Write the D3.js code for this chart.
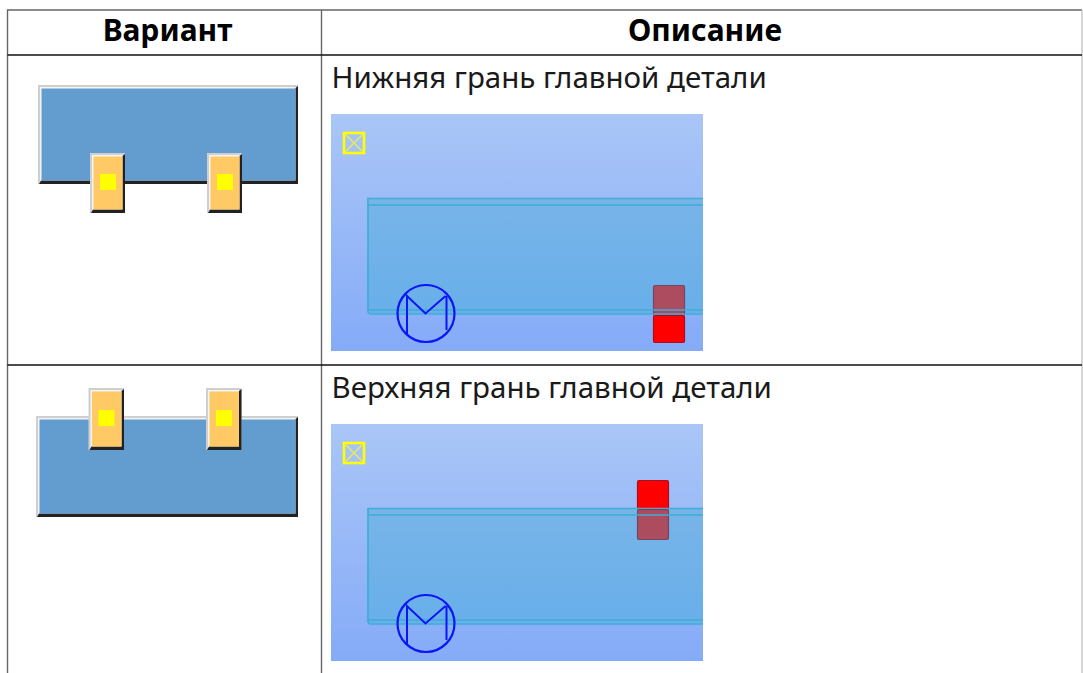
<!DOCTYPE html>
<html><head><meta charset="utf-8">
<style>html,body{margin:0;padding:0;background:#fff;overflow:hidden}svg{display:block}</style>
<script src="https://cdn.jsdelivr.net/npm/d3@7"></script></head><body>
<script>
const headers = ["Вариант", "Описание"];
const descriptions = ["Нижняя грань главной детали", "Верхняя грань главной детали"];
const columnEdges = [7.5, 321.5, 1082];
const rowEdges = [10, 55, 365, 673];

const W = 1083, H = 673;
const x = d3.scaleIdentity().domain([0, W]);
const y = d3.scaleIdentity().domain([0, H]);
const svg = d3.select("body").append("svg").attr("width", W).attr("height", H);
const defs = svg.append("defs");
const soft = defs.append("filter").attr("id","soft").attr("filterUnits","userSpaceOnUse").attr("x",0).attr("y",0).attr("width",W).attr("height",H);
soft.append("feGaussianBlur").attr("stdDeviation",0.6);
const grad = defs.append("linearGradient").attr("id","sky").attr("x1",0).attr("x2",0).attr("y1",0).attr("y2",1);
grad.append("stop").attr("offset",0).attr("stop-color","#aac6f7");
grad.append("stop").attr("offset",1).attr("stop-color","#85abf8");
const beamGrad = defs.append("linearGradient").attr("id","beam").attr("x1",0).attr("x2",0).attr("y1",0).attr("y2",1);
beamGrad.append("stop").attr("offset",0).attr("stop-color","#76b4e8");
beamGrad.append("stop").attr("offset",1).attr("stop-color","#69afea");

function bevel(g, x0, x1, y0, y1, fill){
  const s = g.append("g");
  s.append("rect").attr("x",x(x0)).attr("y",y(y0)).attr("width",x1-x0).attr("height",y1-y0).attr("fill","#cfcfcf");
  s.append("rect").attr("x",x(x0)+2).attr("y",y(y0)+2).attr("width",x1-x0-4).attr("height",y1-y0-4).attr("fill","#f4f4f4");
  s.append("path").attr("d",`M${x(x1)},${y(y0)+1}L${x(x1)},${y(y1)}L${x(x0)+1},${y(y1)}L${x(x0)+3},${y(y1)-3.5}L${x(x1)-2.5},${y(y1)-3.5}L${x(x1)-2.5},${y(y0)+3}Z`).attr("fill","#222");
  s.append("rect").attr("x",x(x0)+3.5).attr("y",y(y0)+3.5).attr("width",x1-x0-6).attr("height",y1-y0-7).attr("fill",fill);
}

function variant(main, tabs){
  const g = svg.append("g").attr("filter","url(#soft)");
  bevel(g, main[0], main[1], main[2], main[3], "#639dd0");
  tabs.forEach(t=>{
    bevel(g, t[0], t[1], t[2], t[3], "#ffc965");
    g.append("rect").attr("x",x(t[4])).attr("y",y(t[5])).attr("width",16).attr("height",16).attr("fill","#ffff00");
  });
}
variant([38,298,85,184],[[90,125,153,213,100,174],[207,242,153,213,217,174]]);
variant([36,298,416,517],[[88.5,124,388,450,98.5,410],[206,241.5,388,450,216,410]]);

function shot(top, redParts){
  const g = svg.append("g").attr("filter","url(#soft)");
  const dy = top-114;
  g.append("rect").attr("x",x(331)).attr("y",y(top)).attr("width",372).attr("height",237).attr("fill","url(#sky)");
  g.append("rect").attr("x",x(344)).attr("y",y(133+dy)).attr("width",20).attr("height",20).attr("fill","none").attr("stroke","#ffff00").attr("stroke-width",2.6);
  g.append("path").attr("d",`M345,${134+dy}L363,${152+dy}M363,${134+dy}L345,${152+dy}`).attr("stroke","#ecec50").attr("stroke-width",1.3);
  g.append("rect").attr("x",x(368)).attr("y",y(199+dy)).attr("width",335).attr("height",114.5).attr("fill","url(#beam)");
  redParts.forEach(r=>{
    g.append("rect").attr("x",x(r[0])+.5).attr("y",y(r[1])+.5).attr("width",r[2]-1).attr("height",r[3]-1).attr("rx",1.5)
     .attr("fill",r[4]?"#ff0000":"#ad4b5e").attr("stroke",r[4]?"#a80f20":"#6f4a60").attr("stroke-width",1.2);
  });
  const bl = "#3fadd6";
  g.append("path").attr("d",`M703,${198.5+dy}L368,${198.5+dy}L368,${312+dy}L370,${314+dy}L703,${314+dy}M368,${205+dy}L703,${205+dy}M368,${310+dy}L703,${310+dy}`).attr("fill","none").attr("stroke",bl).attr("stroke-width",1.7);
  g.append("circle").attr("cx",x(426)).attr("cy",y(313.5+dy)).attr("r",28.5).attr("fill","none").attr("stroke","#0a14f5").attr("stroke-width",2.2);
  g.append("path").attr("d",`M407,${334+dy}L407,${296+dy}L425.5,${313.5+dy}L445.5,${296+dy}M446.5,${296+dy}L446.5,${330+dy}`).attr("fill","none").attr("stroke","#0a14f5").attr("stroke-width",2);
}
shot(114,[[653,285,32,31,false],[653,315,32,28,true]]);
shot(424,[[637,509,32,31,false],[637,480,32,30,true]]);

const rules = svg.append("g");
rules.append("path").attr("d",`M${x(7.5)},${y(673)}L${x(7.5)},${y(10)}L${x(1082)},${y(10)}`).attr("fill","none").attr("stroke","#666").attr("stroke-width",1.4);
rules.append("line").attr("x1",x(1082)).attr("x2",x(1082)).attr("y1",y(10)).attr("y2",y(673)).attr("stroke","#bbb").attr("stroke-width",1.2);
rules.append("line").attr("x1",x(321.5)).attr("x2",x(321.5)).attr("y1",y(10)).attr("y2",y(673)).attr("stroke","#666").attr("stroke-width",1.4);
rowEdges.slice(1,3).forEach(v=>rules.append("line").attr("x1",x(7.5)).attr("x2",x(1082)).attr("y1",y(v)).attr("y2",y(v)).attr("stroke","#111").attr("stroke-width",1.3));

const font = "'Noto Sans', sans-serif";
svg.selectAll("text.h").data(headers).join("text").attr("class","h")
  .attr("x",(d,i)=>x(i?705:167.5)).attr("y",y(41))
  .attr("text-anchor","middle").attr("font-family",font).attr("font-weight",700).attr("font-size",30).attr("fill","#000").text(d=>d);
svg.selectAll("text.d").data(descriptions).join("text").attr("class","d")
  .attr("x",x(331.5)).attr("y",(d,i)=>y(i?397.5:87.5))
  .attr("font-family",font).attr("font-size",29.5).attr("fill","#1a1a1a").text(d=>d);
</script></body></html>
